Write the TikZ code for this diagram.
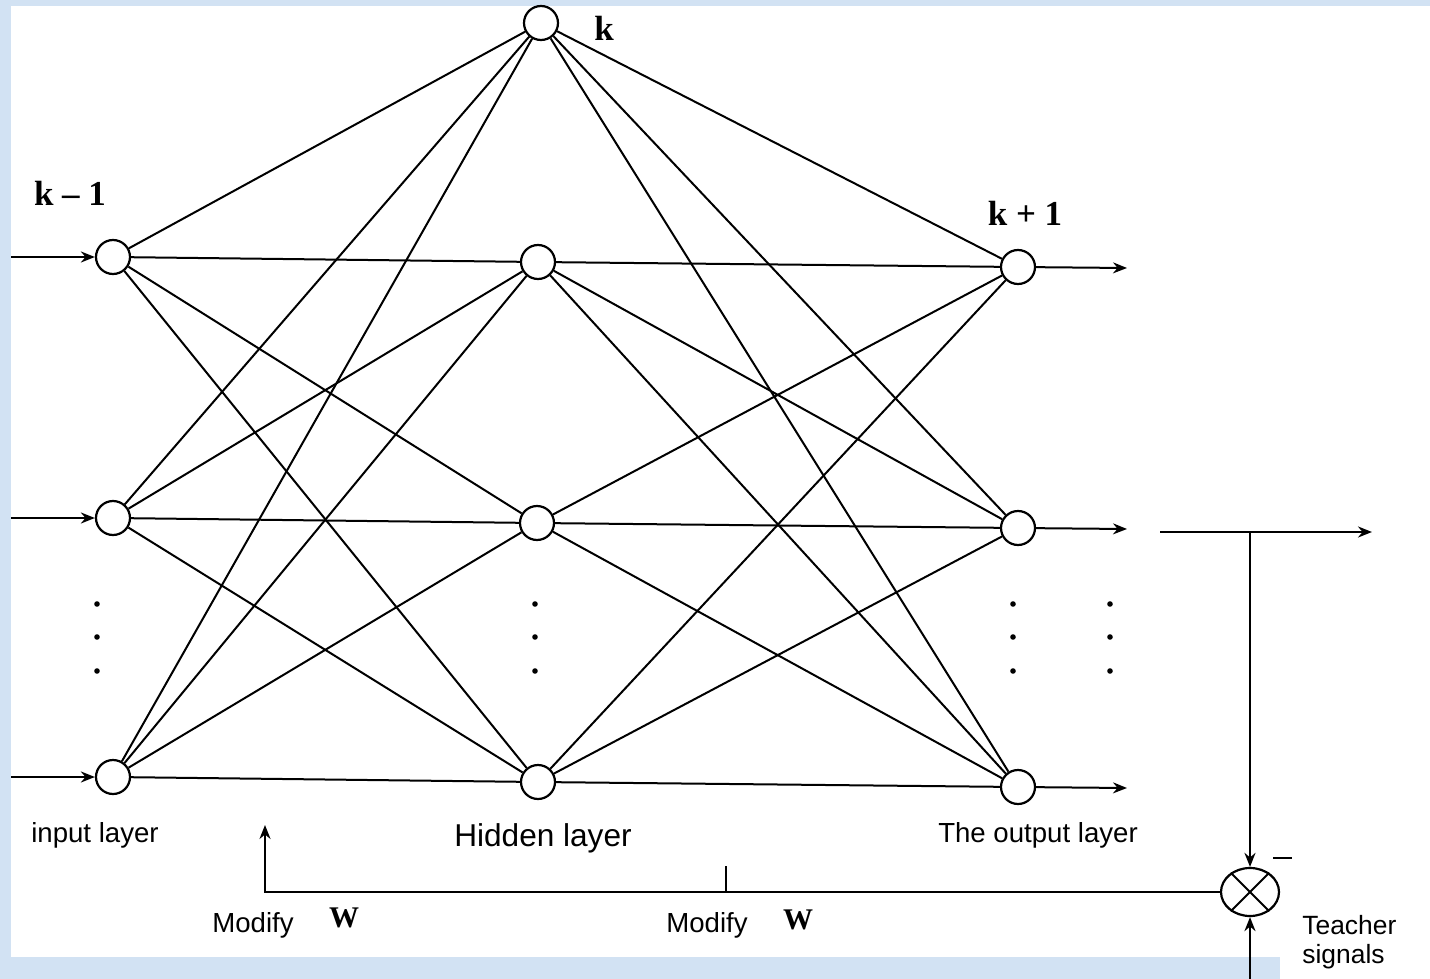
\documentclass[tikz,border=0pt]{standalone}
\usepackage{fontspec}
\setmainfont{Liberation Serif}
\setsansfont{Liberation Sans}
\usetikzlibrary{arrows.meta,shapes.geometric}
\definecolor{bgblue}{RGB}{210,226,243}
\begin{document}
\begin{tikzpicture}[x=0.5pt,y=-0.5pt,
  neuron/.style={circle,draw,line width=1.1pt,minimum size=17pt,inner sep=0pt,fill=white},
  conn/.style={line width=1pt},
  arr/.style={conn,-{Stealth[length=7pt,width=5.5pt]}},
  lbl/.style={font=\fontsize{13.8}{16}\selectfont\sffamily,inner sep=0pt},
  klbl/.style={font=\fontsize{17.5}{20}\selectfont\bfseries,inner sep=0pt},
  wlbl/.style={font=\fontsize{15}{17}\selectfont\bfseries,inner sep=0pt}]
\fill[bgblue] (0,0) rectangle (1430,979);
\fill[white] (11,6) rectangle (1430,957);
\fill[white] (1280,957) rectangle (1430,979);
\useasboundingbox (0,0) rectangle (1430,979);

% neurons
\node[neuron] (h0) at (541,23) {};
\node[neuron] (i1) at (113,257) {};
\node[neuron] (i2) at (113,518) {};
\node[neuron] (i3) at (113,777) {};
\node[neuron] (h1) at (538,262) {};
\node[neuron] (h2) at (537,523) {};
\node[neuron] (h3) at (538,782) {};
\node[neuron] (o1) at (1018,267) {};
\node[neuron] (o2) at (1018,528) {};
\node[neuron] (o3) at (1018,787) {};

% connections
\foreach \a in {i1,i2,i3}{\foreach \b in {h0,h1,h2,h3}{\draw[conn] (\a) -- (\b);}}
\foreach \a in {h0,h1,h2,h3}{\foreach \b in {o1,o2,o3}{\draw[conn] (\a) -- (\b);}}

% input arrows
\coordinate (in1) at (11,257);
\coordinate (in2) at (11,518);
\coordinate (in3) at (11,777);
\draw[arr] (in1) -- (i1);
\draw[arr] (in2) -- (i2);
\draw[arr] (in3) -- (i3);

% output arrows
\coordinate (oe1) at (1127,268);
\coordinate (oe2) at (1127,529);
\coordinate (oe3) at (1127,788);
\draw[arr] (o1) -- (oe1);
\draw[arr] (o2) -- (oe2);
\draw[arr] (o3) -- (oe3);

% dots
\foreach \x in {97,535,1013,1110}{
  \foreach \y in {0,33,67}{
    \fill (\x,604+\y) circle (1.4pt);
  }
}

% comparator
\node[ellipse,draw,line width=1.1pt,minimum width=29pt,minimum height=24pt,inner sep=0pt] (cmp) at (1250,892) {};
\draw[conn] (cmp.45) -- (cmp.225);
\draw[conn] (cmp.135) -- (cmp.315);

\coordinate (rs) at (1160,532);
\coordinate (re) at (1372,532);
\coordinate (jn) at (1250,532);
\draw[arr] (rs) -- (re);
\draw[arr,line width=1.3pt] (jn) -- (cmp.north);
\coordinate (ts) at (1250,979);
\draw[arr,line width=1.3pt] (ts) -- (cmp.south);
\coordinate (mA) at (1273,858);
\coordinate (mB) at (1292,858);
\draw[line width=0.8pt] (mA) -- (mB);

% feedback
\coordinate (fbT) at (265,825);
\draw[arr] (cmp.west) -| (fbT);
\coordinate (tk) at (726,866);
\draw[conn,line width=1.3pt] (tk) -- (tk |- cmp.west);

% labels
\node[klbl] (lk0) at (604,28) {k};
\node[klbl] (lkm) at (70,193) {k -- 1};
\node[klbl] (lkp) at (1025,213) {k + 1};
\node[lbl] (lin) at (95,835) {input layer};
\node[lbl,font=\fontsize{15.8}{18}\selectfont\sffamily] (lhid) at (543,838) {Hidden layer};
\node[lbl] (lout) at (1038,835) {The output layer};
\node[lbl] (m1) at (253,925) {Modify};
\node[wlbl] (w1) at (344,918) {W};
\node[lbl] (m2) at (707,925) {Modify};
\node[wlbl] (w2) at (798,920) {W};
\node[lbl,font=\fontsize{13.2}{16}\selectfont\sffamily,anchor=west] (t1) at (1302,925) {Teacher};
\node[lbl,font=\fontsize{13.2}{16}\selectfont\sffamily,anchor=west] (t2) at (1302,957) {signals};
\end{tikzpicture}
\end{document}
